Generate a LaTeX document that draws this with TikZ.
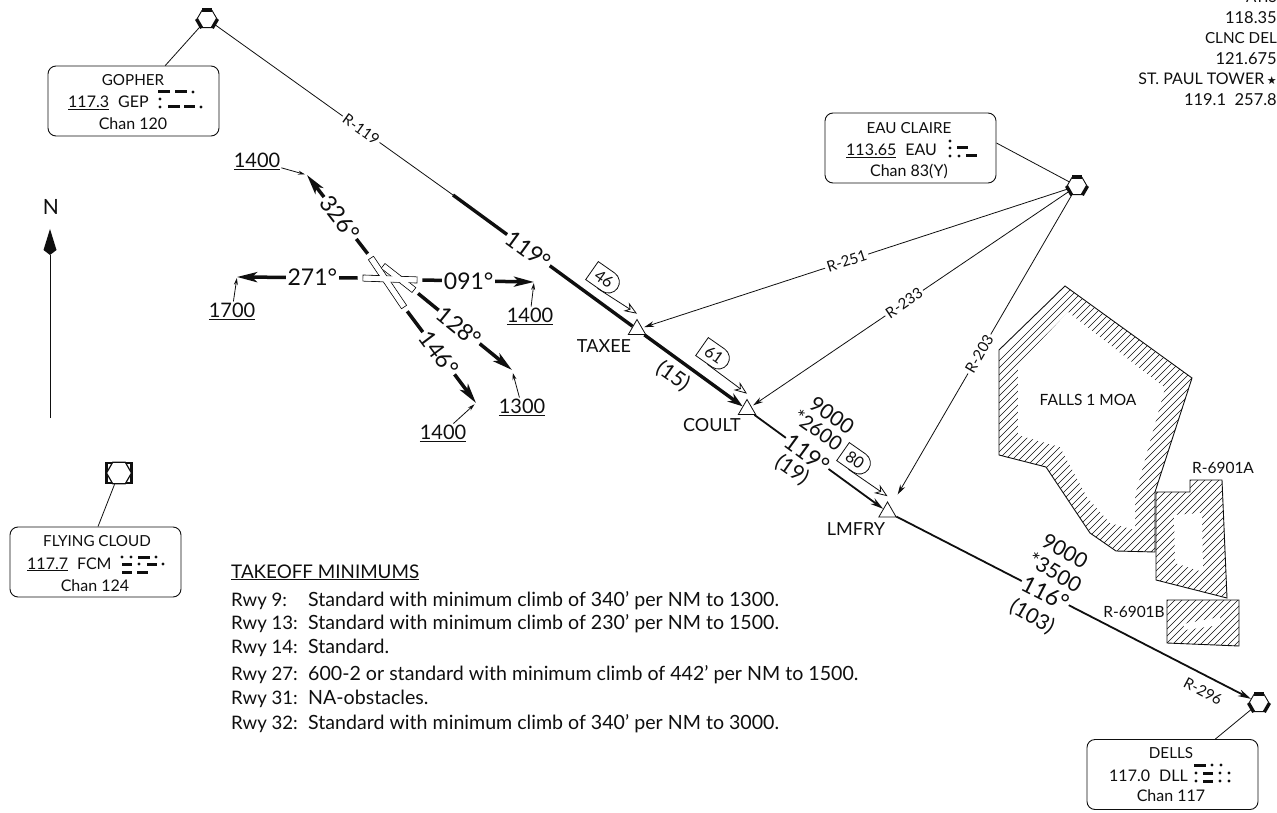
\documentclass[tikz,border=0pt]{standalone}
\usepackage{fontspec}
\usepackage{xcolor}
\usepackage{tikz}
\usetikzlibrary{positioning, shapes.geometric, shapes.misc, calc, arrows.meta}
\setmainfont{Lato}
\setsansfont{Lato}
\newfontfamily\starfont{DejaVu Sans}
\definecolor{apInk}{RGB}{15, 15, 15}
\tikzset{
    base/.style={
        font=\fontsize{16}{19}\selectfont,
        text=apInk,
        align=center
    },
    navbox/.style={
        base,
        rectangle,
        rounded corners=8pt,
        draw=apInk,
        line width=0.9pt,
        fill=white,
        minimum width=171pt,
        minimum height=70pt,
        inner sep=0pt
    },
    vortac/.style={
        regular polygon,
        regular polygon sides=6,
        draw=apInk,
        line width=0.9pt,
        fill=white,
        minimum size=20pt,
        inner sep=0pt
    },
    fix/.style={
        regular polygon,
        regular polygon sides=3,
        draw=apInk,
        line width=0.8pt,
        fill=white,
        minimum size=20pt,
        inner sep=0pt
    },
    fixname/.style={
        base,
        font=\fontsize{18}{20}\selectfont
    },
    runway/.style={
        rectangle,
        draw=apInk,
        line width=0.8pt,
        fill=white,
        minimum height=6pt,
        inner sep=0pt
    },
    runwayfill/.style={
        rectangle,
        fill=white,
        minimum height=5pt,
        inner sep=0pt
    },
    mea/.style={
        base,
        font=\fontsize{16}{16}\selectfont,
        rounded rectangle,
        rounded rectangle left arc=none,
        draw=apInk,
        line width=0.8pt,
        fill=white,
        minimum width=31pt,
        minimum height=22pt,
        inner sep=0pt,
        rotate=-35
    },
    meaflow/.style={
        -{Stealth[open, length=13pt, width=10pt]},
        line width=0.8pt,
        draw=apInk
    },
    radial/.style={
        -{Stealth[length=10pt, width=5.5pt]},
        line width=0.8pt,
        draw=apInk
    },
    leader/.style={
        line width=0.8pt,
        draw=apInk
    },
    radlabel/.style={
        base,
        font=\fontsize{15}{16}\selectfont,
        fill=white,
        inner sep=2pt
    },
    airway/.style={
        line width=1.8pt,
        draw=apInk
    },
    boldway/.style={
        line width=3.4pt,
        draw=apInk
    },
    course/.style={
        base,
        font=\fontsize{23}{26}\selectfont,
        fill=white,
        inner sep=1.5pt
    },
    stacked/.style={
        base,
        font=\fontsize{21}{23}\selectfont,
        inner sep=0pt
    },
    depart/.style={
        line width=3.5pt,
        draw=apInk,
        shorten <=5pt,
        -{Stealth[length=20pt, width=10pt, inset=5pt]}
    },
    altitude/.style={
        base,
        font=\fontsize{20}{22}\selectfont,
        inner sep=1pt
    },
    areaname/.style={
        base,
        font=\fontsize{15.5}{16}\selectfont,
        inner sep=0pt
    },
    area/.style={
        line width=0.9pt,
        draw=apInk
    },
    rules/.style={
        font=\fontsize{19.6}{22}\selectfont,
        text=apInk,
        anchor=base west,
        inner sep=0pt
    },
    morsebar/.style={
        line width=3pt,
        draw=apInk
    }
}

% hexagon with the three heavy edges
\newcommand{\heavyedges}[1]{
    \draw[line width=3.4pt, draw=apInk] (#1.corner 1) -- (#1.corner 2);
    \draw[line width=3.4pt, draw=apInk] (#1.corner 3) -- (#1.corner 4);
    \draw[line width=3.4pt, draw=apInk] (#1.corner 5) -- (#1.corner 6);
}
% hatching for a region, clipped to its outline
\newcommand{\hatched}[2]{
    \begin{scope}
        \clip #1;
        \foreach \c in {#2} {
            \draw[line width=0.6pt, draw=apInk] (\c,0) -- (0,\c);
        }
    \end{scope}
}
\newcommand{\capsize}{\fontsize{15.2}{20.5}\selectfont}

\begin{document}
\begin{tikzpicture}[x=1pt, y=-1pt]
    \useasboundingbox (0,0) rectangle (1277,813);

    % Falls 1 MOA and the restricted areas
    \def\moaouter{(1065,286) -- (1192,378) -- (1155,492) -- (1155,552) -- (1116,551) -- (1090,533) -- (1046,467) -- (999,455) -- (999,350) -- cycle}
    \hatched{\moaouter}{1360,1367,...,1720}
    \fill[white] (1068,312) -- (1165,388) -- (1135,495) -- (1135,530) -- (1110,523) -- (1087,497) -- (1060,447) -- (1018,435) -- (1018,365) -- cycle;
    \draw[area] \moaouter;

    \def\raouter{(1156,492) -- (1190,492) -- (1190,480) -- (1222,480) -- (1227,598) -- (1156,580) -- cycle}
    \hatched{\raouter}{1636,1643,...,1830}
    \fill[white] (1174,515) -- (1202,513) -- (1203,572) -- (1175,563) -- cycle;
    \draw[area] \raouter;

    \def\rbouter{(1167,600) -- (1239,600) -- (1239,646) -- (1167,643) -- cycle}
    \hatched{\rbouter}{1768,1775,...,1890}
    \fill[white] (1183,624) -- (1220,617) -- (1220,625) -- (1185,630) -- cycle;
    \draw[area] \rbouter;

    \node[areaname] (moaname) at (1088,400) {FALLS 1 MOA};
    \node[areaname] (raname) at (1223,468) {R-6901A};
    \node[areaname] (rbname) at (1134,612) {R-6901B};

    % North arrow
    \coordinate (nfoot) at (50,418);
    \coordinate (nhead) at (50,255);
    \node[base, font=\fontsize{21}{22}\selectfont] (nname) at (51,207) {N};
    \draw[leader] (nfoot) -- (nhead);
    \fill[apInk] (50,229) -- (56.5,250) -- (nhead) -- (43.5,250) -- cycle;

    % Navaids
    \node[vortac] (gopher) at (207,19) {};
    \heavyedges{gopher}
    \node[vortac] (eau) at (1077,186) {};
    \heavyedges{eau}
    \node[vortac] (dells) at (1259,703) {};
    \heavyedges{dells}
    \node[rectangle, draw=apInk, line width=2.6pt, minimum width=25pt, minimum height=20pt, inner sep=0pt] (flycloud) at (119,473) {};
    \node[vortac, minimum size=25pt, line width=1.2pt] (flyhex) at (119,473) {};

    \node[navbox] (gopherbox) at (133.5,101) {};
    \node[navbox] (flybox) at (95.5,562) {};
    \node[navbox] (eaubox) at (910.5,148) {};
    \node[navbox] (dellsbox) at (1172.5,774.5) {};

    \draw[leader] (gopherbox) -- (gopher);
    \draw[leader] ([xshift=2.5pt]flybox.north) -- (flycloud);
    \draw[leader] ([yshift=5pt]eaubox.east) -- (eau);
    \draw[leader] (dellsbox) -- (dells);

    % Box texts
    \node[base, font=\capsize] (gophername) at (133,80) {GOPHER};
    \node[base, anchor=base west, inner sep=0pt] (gopherfreq) at (68,108) {\underline{117.3}\hspace{9pt}GEP};
    \node[base] (gopherchan) at (133,124) {Chan 120};

    \node[base, font=\capsize] (flyname) at (97,541) {FLYING CLOUD};
    \node[base, anchor=base west, inner sep=0pt] (flyfreq) at (27,569) {\underline{117.7}\hspace{9pt}FCM};
    \node[base] (flychan) at (95,586) {Chan 124};

    \node[base, font=\capsize] (eauname) at (909,128) {EAU CLAIRE};
    \node[base, anchor=base west, inner sep=0pt] (eaufreq) at (846,156) {\underline{113.65}\hspace{9pt}EAU};
    \node[base] (eauchan) at (909,171) {Chan 83(Y)};

    \node[base, font=\capsize] (dellsname) at (1171,753) {DELLS};
    \node[base, anchor=base west, inner sep=0pt] (dellsfreq) at (1109,781) {117.0\hspace{9pt}DLL};
    \node[base] (dellschan) at (1171,796) {Chan 117};

    % Morse codes
    \foreach \xa/\xb/\y in {158/170/92, 175/187/92, 168/180/107, 184/195/107,
                            138/150/557, 122/132/564, 147/157/564, 122/132/572, 137/148/572,
                            957/968/148, 966/977/156,
                            1194/1206/765, 1203/1213/773, 1203/1213/781} {
        \draw[morsebar] (\xa,\y) -- (\xb,\y);
    }
    \foreach \x/\y in {193/92, 160/99, 160/107, 201/107,
                       122/557, 131/557, 156/557, 139/564, 163/564,
                       950/141, 950/148, 950/156, 959/156,
                       1212/765, 1221/765, 1196/773, 1220/773, 1229/773, 1196/781, 1220/781, 1229/781} {
        \fill[apInk] (\x,\y) circle (1.6pt);
    }

    % Fixes
    \node[fix] (taxee) at (637,329.5) {};
    \node[fix] (coult) at (747,409.5) {};
    \node[fix] (lmfry) at (887.5,512) {};
    \node[fixname] (taxeename) at (604,346) {TAXEE};
    \node[fixname] (coultname) at (712,425) {COULT};
    \node[fixname] (lmfryname) at (856,529) {LMFRY};

    % Airway
    \coordinate (boldstart) at (453,195);
    \draw[leader] (gopher) -- node[radlabel, sloped, pos=0.615] (r119) {R-119} (boldstart);
    \draw[boldway] (boldstart) -- node[course, sloped, pos=0.42] (crs119a) {119°} (taxee);
    \draw[boldway, -{Stealth[length=15pt, width=10pt]}] (taxee) -- (coult);
    \draw[airway, -{Stealth[length=13pt, width=7pt]}] (coult) -- node[course, sloped, pos=0.41] (crs119b) {119°} (lmfry);
    \draw[airway, -{Stealth[length=13pt, width=7pt]}] (lmfry) -- node[course, sloped, pos=0.42] (crs116) {116°} (dells);

    \node[stacked, rotate=-35] (dist15) at (673,376) {(15)};
    \node[stacked, rotate=-35] (alt9000a) at (832,415) {9000};
    \node[stacked, rotate=-35, font=\fontsize{20}{22}\selectfont] (alt2600) at (818,430) {*2600};
    \node[stacked, rotate=-35] (dist19) at (792,470) {(19)};
    \node[stacked, rotate=-30] (alt9000b) at (1065,551) {9000};
    \node[stacked, rotate=-30] (alt3500) at (1055,572) {*3500};
    \node[stacked, rotate=-30] (dist103) at (1032,617) {(103)};

    % Minimum altitudes along the airway
    \node[mea] (mea46) at (604,279) {46};
    \node[mea] (mea61) at (714,355) {61};
    \node[mea] (mea80) at (855,460) {80};
    \draw[meaflow] (mea46.south) -- ([yshift=5pt]taxee.corner 1);
    \draw[meaflow] (mea61.south) -- ([yshift=5pt]coult.corner 1);
    \draw[meaflow] (mea80.south) -- ([yshift=5pt]lmfry.corner 1);

    % Radials
    \draw[radial, shorten >=2pt] (eau) -- node[radlabel, sloped, pos=0.52] (r251) {R-251} (taxee);
    \draw[radial, shorten >=2pt] (eau) -- node[radlabel, sloped, pos=0.52] (r233) {R-233} (coult);
    \draw[radial, shorten >=14pt] (eau) -- node[radlabel, sloped, pos=0.51] (r203) {R-203} (lmfry);
    \node[radlabel, rotate=-28, fill=none] (r296) at (1203,691) {R-296};

    % Runways
    \node[runway, minimum width=59pt, rotate=-56] (rwya) at (387.5,282.5) {};
    \node[runway, minimum width=39pt, rotate=-38] (rwyb) at (398.5,278) {};
    \node[runway, minimum width=54pt, rotate=-2] (rwyc) at (390,279) {};
    \node[runwayfill, minimum width=58pt, rotate=-56] (rwyainner) at (387.5,282.5) {};
    \node[runwayfill, minimum width=38pt, rotate=-38] (rwybinner) at (398.5,278) {};
    \node[runwayfill, minimum width=53pt, rotate=-2] (rwycinner) at (390,279) {};

    % Departure courses
    \coordinate (tipnw) at (307,175);
    \coordinate (tipw) at (237,277);
    \coordinate (tipe) at (534,282);
    \coordinate (tipse) at (512,370);
    \coordinate (tipsse) at (476,403);
    \draw[depart] (rwya.west) -- node[course, sloped, pos=0.48] (crs326) {326°} (tipnw);
    \draw[depart] (rwyc.west) -- node[course, pos=0.40] (crs271) {271°} (tipw);
    \draw[depart] (rwyc.east) -- node[course, pos=0.44] (crs091) {091°} (tipe);
    \draw[depart] (rwyb.east) -- node[course, sloped, pos=0.46] (crs128) {128°} (tipse);
    \draw[depart] (rwya.east) -- node[course, sloped, pos=0.48] (crs146) {146°} (tipsse);

    \node[altitude] (altnw) at (257,161) {\underline{1400}};
    \node[altitude] (altw) at (232,311) {\underline{1700}};
    \node[altitude] (alte) at (530,316) {\underline{1400}};
    \node[altitude] (altse) at (522,407) {\underline{1300}};
    \node[altitude] (altsse) at (443,433) {\underline{1400}};
    \draw[leader, -{Stealth[length=7pt, width=4pt]}, shorten >=2pt] (altnw) -- (tipnw);
    \draw[leader, -{Stealth[length=7pt, width=4pt]}, shorten >=1pt] (altw) -- (tipw);
    \draw[leader, -{Stealth[length=7pt, width=4pt]}, shorten >=1pt] (alte) -- (tipe);
    \draw[leader, -{Stealth[length=7pt, width=4pt]}, shorten >=3pt] (altse) -- (tipse);
    \draw[leader, -{Stealth[length=7pt, width=4pt]}, shorten >=2pt] (altsse) -- (tipsse);

    % Takeoff minimums
    \node[rules, font=\fontsize{18.8}{20}\selectfont] (tkhead) at (231,578) {\underline{TAKEOFF MINIMUMS}};
    \foreach \n/\y/\rwyname/\txt in {
        a/606/{Rwy 9:}/{Standard with minimum climb of 340' per NM to 1300.},
        b/629/{Rwy 13:}/{Standard with minimum climb of 230' per NM to 1500.},
        c/653/{Rwy 14:}/{Standard.},
        d/680/{Rwy 27:}/{600-2 or standard with minimum climb of 442' per NM to 1500.},
        e/704/{Rwy 31:}/{NA-obstacles.},
        f/729/{Rwy 32:}/{Standard with minimum climb of 340' per NM to 3000.}} {
        \node[rules, font=\fontsize{18.6}{22}\selectfont] (rwy\n) at (231,\y) {\rwyname};
        \node[rules] (txt\n) at (308,\y) {\txt};
    }

    % Frequencies
    \node[base, anchor=north east, align=right, inner sep=0pt, font=\fontsize{16.5}{20.5}\selectfont] (freqs) at (1277,-8.5) {{\capsize ATIS}\\118.35\\{\capsize CLNC DEL}\\121.675\\{\fontsize{16}{20.5}\selectfont ST. PAUL TOWER}\,{\starfont\fontsize{11}{11}\selectfont ★}\\119.1\ \ 257.8};
\end{tikzpicture}
\end{document}
